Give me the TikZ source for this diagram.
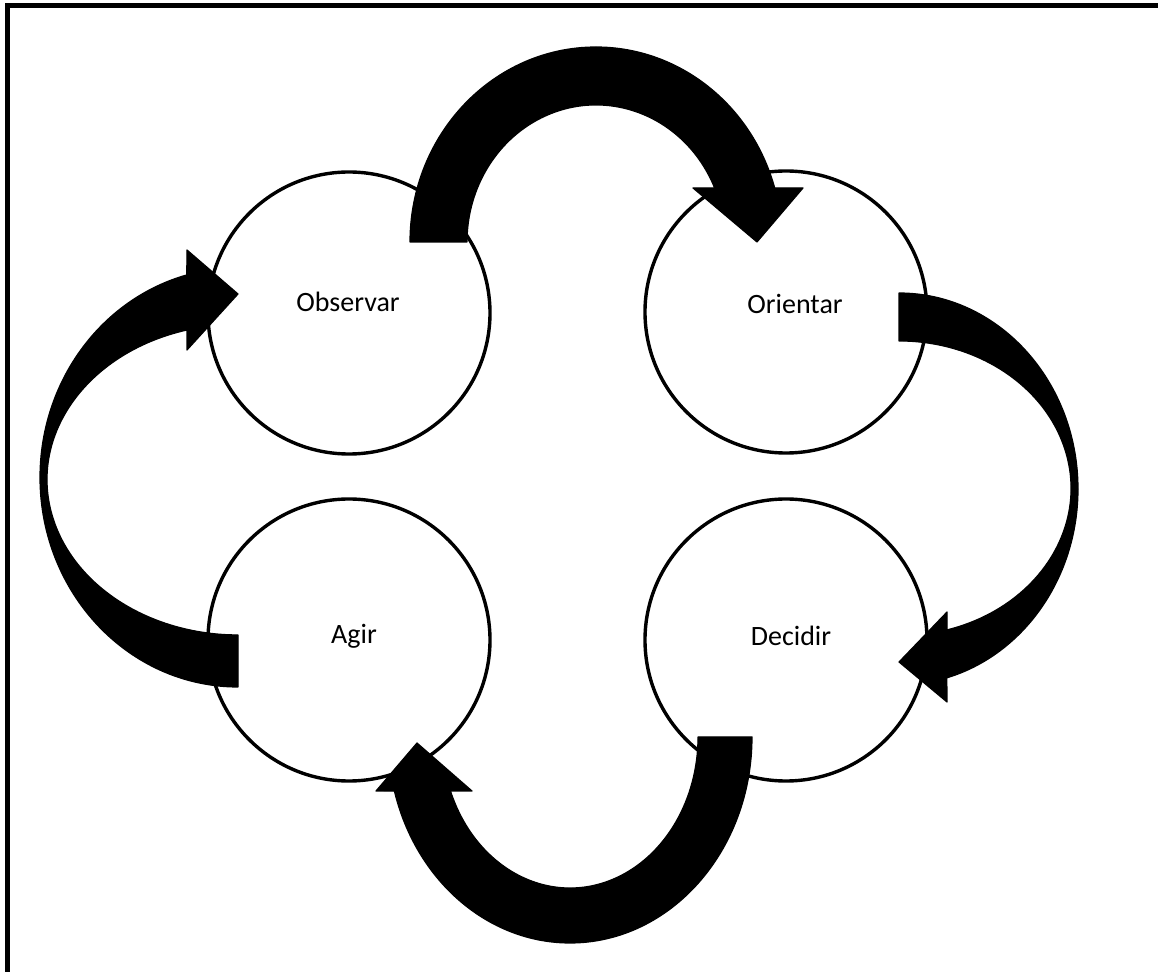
\documentclass[tikz,border=0pt]{standalone}
\usepackage{fontspec}
\setmainfont{Carlito}
\begin{document}
\begin{tikzpicture}[x=0.5pt,y=-0.5pt,
  stage/.style={circle, draw=black, fill=white, line width=1.7pt, minimum size=141pt, inner sep=0pt},
  lbl/.style={font=\fontsize{14}{16}\selectfont, inner sep=0pt},
  bigarrow/.style={fill=black, draw=black, line width=0.6pt, line join=round},
  frame/.style={draw=black, line width=2.3pt}]
\useasboundingbox (0,0) rectangle (1158,972);
\draw[frame] (7.5,972) -- (7.5,5.7) -- (1158,5.7);

\node[stage] (obs) at (349,313) {};
\node[stage] (ori) at (786,312) {};
\node[stage] (agi) at (349,640) {};
\node[stage] (dec) at (786,640) {};

\node[lbl] (tobs) at (348,302) {Observar};
\node[lbl] (tori) at (795,304) {Orientar};
\node[lbl] (tagi) at (354,636) {Agir};
\node[lbl] (tdec) at (791,636) {Decidir};

% Observar -> Orientar
\draw[bigarrow] (410,242) arc[start angle=180, end angle=343.92, x radius=186, y radius=195]
  -- (803,188) -- (757,242) -- (693,188) -- (714.6,188)
  arc[start angle=336.8, end angle=180, x radius=129, y radius=137] -- cycle;
% Orientar -> Decidir
\draw[bigarrow] (899,293) arc[start angle=270, end angle=434.5, x radius=179, y radius=196]
  -- (947,702) -- (899,662) -- (947,612) -- (947,629.9)
  arc[start angle=433.8, end angle=270, x radius=172, y radius=147.4] -- cycle;
% Decidir -> Agir
\draw[bigarrow] (752,737) arc[start angle=0, end angle=164.8, x radius=182, y radius=206]
  -- (376,791) -- (417,743) -- (472,791) -- (450.5,791)
  arc[start angle=159.04, end angle=0, x radius=128, y radius=151] -- cycle;
% Agir -> Observar
\draw[bigarrow] (238,687) arc[start angle=90, end angle=255, x radius=198, y radius=209.6]
  -- (187,250) -- (238,294) -- (187,350) -- (187,330)
  arc[start angle=254.5, end angle=90, x radius=191, y radius=155.3] -- cycle;
\end{tikzpicture}
\end{document}
